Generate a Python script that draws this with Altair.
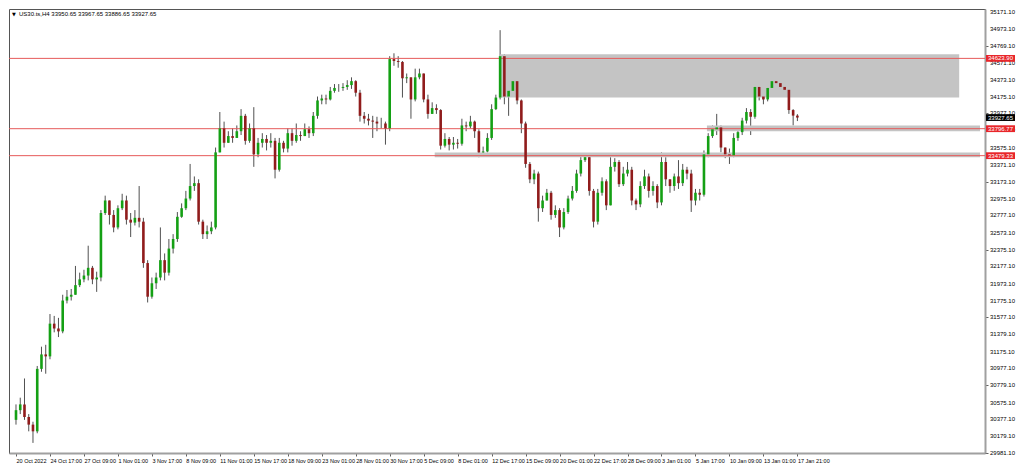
import json
import altair as alt
import pandas as pd

# ---------------- data ----------------
symbol = "US30.ts,H4"
first_open = 30371

closes = [
    30485, 30553, 30405, 30315, 30236, 30971, 31141, 31118, 31503, 31446,
    31412, 31775, 31820, 31843, 31956, 32024, 32069, 32160, 32024, 32046,
    32805, 32952, 32782, 32635, 32861, 32952, 32726, 32692, 32748, 32703,
    32216, 31820, 31978, 32046, 32250, 32103, 32386, 32499, 32760, 32861,
    32975, 33122, 33156, 32703, 32556, 32590, 32635, 33518, 33801, 33631,
    33710, 33688, 33767, 33948, 33654, 33801, 33495, 33631, 33676, 33631,
    33654, 33314, 33631, 33563, 33744, 33654, 33722, 33710, 33790, 33744,
    33948, 34129, 34152, 34141, 34242, 34276, 34276, 34288, 34310, 34356,
    34220, 33948, 33914, 33892, 33880, 33858, 33858, 33801, 34616, 34593,
    34582, 34390, 34401, 34141, 34401, 34446, 34141, 33971, 34039, 34016,
    33597, 33676, 33609, 33631, 33620, 33835, 33824, 33880, 33767, 33518,
    33529, 33688, 34027, 34163, 34650, 34175, 34242, 34356, 34129, 33858,
    33382, 33201, 33269, 32861, 32952, 33043, 32782, 32839, 32635, 32816,
    32975, 33065, 33269, 33427, 33461, 33065, 32703, 33043, 33178, 32895,
    33348, 33405, 33144, 33269, 33314, 32952, 32907, 33122, 33235, 33065,
    33122, 32929, 33405, 33201, 33122, 33235, 33156, 33314, 33269, 32952,
    33043, 33020, 33495, 33710, 33790, 33812, 33575, 33495, 33484, 33688,
    33756, 33892, 33993, 33937, 34288, 34175, 34141, 34276, 34356, 34333,
    34288, 34254, 34016, 33950.65, 33927.65,
]

highs = [
    30553, 30632, 30858, 30439, 30349, 31005, 31232, 31254, 31616, 31594,
    31571, 31843, 31899, 31911, 32182, 32103, 32137, 32420, 32182, 32114,
    32839, 33009, 32952, 32839, 32895, 33031, 33009, 32805, 32839, 33122,
    32748, 32250, 32046, 32103, 32635, 32329, 32499, 32556, 32816, 32918,
    33065, 33382, 33235, 33201, 32726, 32658, 32703, 33575, 33993, 33880,
    33767, 33801, 33835, 34027, 33971, 33858, 34050, 33688, 33744, 33722,
    33744, 33688, 33688, 33654, 33801, 33801, 33858, 33767, 33858, 33824,
    33993, 34175, 34197, 34197, 34288, 34322, 34322, 34333, 34367, 34401,
    34367, 34254, 33993, 33971, 33948, 33937, 33925, 33880, 34650, 34684,
    34650, 34593, 34446, 34401, 34503, 34503, 34446, 34197, 34107, 34084,
    34027, 33744, 33699, 33699, 33676, 33914, 33880, 33948, 33892, 33790,
    33586, 33744, 34084, 34197, 34956, 34673, 34288, 34401, 34458, 34141,
    33880, 33405, 33314, 33292, 33009, 33088, 33065, 32895, 32862, 32862,
    33009, 33122, 33314, 33473, 33495, 33484, 33088, 33088, 33224, 33201,
    33461, 33450, 33427, 33348, 33405, 33348, 32975, 33178, 33314, 33269,
    33178, 33144, 33518, 33461, 33201, 33269, 33427, 33382, 33348, 33314,
    33088, 33088, 33541, 33744, 33835, 33971, 33835, 33575, 33563, 33744,
    33801, 33925, 34039, 34027, 34322, 34310, 34242, 34310, 34401, 34390,
    34367, 34310, 34276, 34027, 33967.65,
]

lows = [
    30315, 30439, 30371, 30236, 30100, 30213, 30937, 30914, 31084, 31401,
    31345, 31390, 31741, 31775, 31854, 31933, 31990, 32012, 31967, 31877,
    32001, 32782, 32669, 32578, 32612, 32839, 32669, 32522, 32658, 32635,
    32160, 31752, 31797, 31911, 32012, 32012, 32069, 32329, 32465, 32748,
    32839, 32952, 33065, 32669, 32499, 32499, 32556, 32612, 33518, 33575,
    33631, 33631, 33688, 33722, 33609, 33631, 33348, 33461, 33575, 33541,
    33575, 33212, 33292, 33518, 33518, 33597, 33631, 33654, 33722, 33688,
    33710, 33914, 34084, 34084, 34129, 34220, 34231, 34242, 34254, 34265,
    34175, 33880, 33858, 33835, 33688, 33767, 33801, 33609, 33767, 34537,
    34514, 34163, 34333, 33914, 34118, 34378, 34107, 33914, 33971, 33971,
    33552, 33575, 33541, 33552, 33563, 33597, 33767, 33801, 33688, 33461,
    33484, 33518, 33665, 34016, 34141, 34084, 33948, 34175, 34084, 33744,
    33337, 33156, 33144, 32703, 32817, 32952, 32726, 32748, 32522, 32612,
    32794, 32952, 33043, 33235, 33405, 33009, 32635, 32669, 33009, 32839,
    32895, 33292, 33111, 33122, 33235, 32895, 32839, 32873, 33088, 32986,
    33009, 32862, 32895, 33122, 33043, 33066, 33088, 33122, 33201, 32817,
    32895, 32952, 32998, 33461, 33688, 33722, 33518, 33450, 33382, 33461,
    33654, 33722, 33858, 33722, 33914, 34129, 34084, 34118, 34254, 34288,
    34242, 34197, 33971, 33835, 33886.65,
]

time_labels = [
    "20 Oct 2022", "24 Oct 17:00", "27 Oct 09:00", "1 Nov 01:00", "3 Nov 17:00",
    "8 Nov 09:00", "11 Nov 01:00", "15 Nov 17:00", "18 Nov 09:00", "23 Nov 01:00",
    "28 Nov 01:00", "30 Nov 17:00", "5 Dec 09:00", "8 Dec 01:00", "12 Dec 17:00",
    "15 Dec 09:00", "20 Dec 01:00", "22 Dec 17:00", "28 Dec 09:00", "3 Jan 01:00",
    "5 Jan 17:00", "10 Jan 09:00", "13 Jan 01:00", "17 Jan 21:00",
]
label_step = 8  # candles between two time labels

price_ticks = [
    35171.10, 34973.10, 34769.10, 34571.10, 34373.10, 34175.10, 33977.10,
    33779.10, 33575.10, 33371.10, 33173.10, 32975.10, 32777.10, 32573.10,
    32375.10, 32177.10, 31973.10, 31775.10, 31577.10, 31379.10, 31175.10,
    30977.10, 30779.10, 30575.10, 30377.10, 30179.10, 29981.10,
]

level_prices = [34623.90, 33796.77, 33479.33]

zone_start = [114.0, 162.7, 98.6]
zone_end = [222.1, 227.0, 227.0]
zone_top = [34673, 33835, 33518]
zone_bottom = [34164, 33767, 33462]

# ---------------- layout ----------------
W, H = 976, 444
X_DOMAIN = [-0.47, 227.0]
Y_DOMAIN = [29981.1, 35205.0]
FONT = "Liberation Sans"
BULL, BEAR = "#14a014", "#901c1c"

opens = [first_open] + closes[:-1]
rows = []
for i, (o, h, l, c) in enumerate(zip(opens, highs, lows, closes)):
    rows.append(dict(i=i, open=o, close=c, high=max(h, o, c), low=min(l, o, c),
                     dir="up" if c >= o else "down"))
candles = pd.DataFrame(rows)

zones = pd.DataFrame(dict(x0=zone_start, x1=zone_end, top=zone_top, bottom=zone_bottom))
levels = pd.DataFrame(dict(price=level_prices))
ticks_df = pd.DataFrame(dict(price=price_ticks, label=[f"{p:.2f}" for p in price_ticks]))

last = rows[-1]
header = f"{symbol}  {last['open']:.2f} {last['high']:.2f} {last['low']:.2f} {last['close']:.2f}"

tag_prices = level_prices + [closes[-1]]
tags = pd.DataFrame(dict(
    price=tag_prices,
    label=[f"{p:.2f}" for p in tag_prices],
    kind=["level"] * len(level_prices) + ["current"],
))

xs = alt.Scale(domain=X_DOMAIN, nice=False, zero=False)
ys = alt.Scale(domain=Y_DOMAIN, nice=False, zero=False)

x_axis = alt.Axis(
    values=list(range(0, len(time_labels) * label_step, label_step)),
    labelExpr=f"{json.dumps(time_labels)}[round(datum.value/{label_step})]",
    labelAlign="left", labelBaseline="top", labelFlush=False, labelOverlap=False,
    tickSize=3, labelPadding=2, grid=False, labelFontSize=5.5,
)
y_axis = alt.Axis(
    orient="right", values=price_ticks, labels=False,
    tickSize=3, grid=False,
)

zone_layer = alt.Chart(zones).mark_rect(color="#c4c4c4").encode(
    x=alt.X("x0:Q", scale=xs, title=None), x2="x1:Q",
    y=alt.Y("top:Q", scale=ys, title=None), y2="bottom:Q",
)

level_layer = alt.Chart(levels).mark_rule(color="#e65a5a", strokeWidth=1).encode(
    y=alt.Y("price:Q", scale=ys, title=None),
)

wick_layer = alt.Chart(candles).mark_rule(color="#505050", strokeWidth=1).encode(
    x=alt.X("i:Q", scale=xs, axis=x_axis, title=None),
    y=alt.Y("low:Q", scale=ys, axis=y_axis, title=None),
    y2="high:Q",
)

body_layer = alt.Chart(candles).mark_bar(size=2.6).encode(
    x=alt.X("i:Q", scale=xs, title=None),
    y=alt.Y("open:Q", scale=ys, title=None),
    y2="close:Q",
    color=alt.Color("dir:N", scale=alt.Scale(domain=["up", "down"], range=[BULL, BEAR]), legend=None),
)

tick_text = alt.Chart(ticks_df).mark_text(
    align="left", baseline="middle", color="#000000", fontSize=6, font=FONT
).encode(
    x=alt.value(W + 5),
    y=alt.Y("price:Q", scale=ys, title=None),
    text="label:N",
)

tag_box = alt.Chart(tags).transform_calculate(
    lo="datum.price - 40", hi="datum.price + 40"
).mark_bar().encode(
    x=alt.value(W + 1), x2=alt.value(W + 30),
    y=alt.Y("lo:Q", scale=ys, title=None), y2="hi:Q",
    color=alt.Color("kind:N", scale=alt.Scale(domain=["level", "current"], range=["#e8262a", "#000000"]), legend=None),
)

tag_text = alt.Chart(tags).mark_text(
    align="left", baseline="middle", color="white", fontSize=6, font=FONT
).encode(
    x=alt.value(W + 3),
    y=alt.Y("price:Q", scale=ys, title=None),
    text="label:N",
)

head_df = pd.DataFrame(dict(t=[header], m=["\u25bc"]))
head_text = alt.Chart(head_df).mark_text(
    align="left", baseline="middle", fontSize=6, font=FONT, color="#000000"
).encode(x=alt.value(10), y=alt.value(5), text="t:N")
head_mark = alt.Chart(head_df).mark_text(
    align="left", baseline="middle", fontSize=5, font="DejaVu Sans", color="#000000"
).encode(x=alt.value(3), y=alt.value(5), text="m:N")

chart = alt.layer(
    wick_layer, zone_layer, level_layer, body_layer, tick_text, tag_box, tag_text, head_text, head_mark
).resolve_scale(color="independent").properties(
    width=W, height=H, padding=0, background="white"
).configure_view(
    stroke="#555555", strokeWidth=1
).configure_axis(
    labelFont=FONT, labelFontSize=6, labelColor="#000000",
    tickColor="#606060", domainColor="#a0a0a0", domainWidth=2,
)

chart.save("out.html", embed_options={"renderer": "svg", "actions": False})
